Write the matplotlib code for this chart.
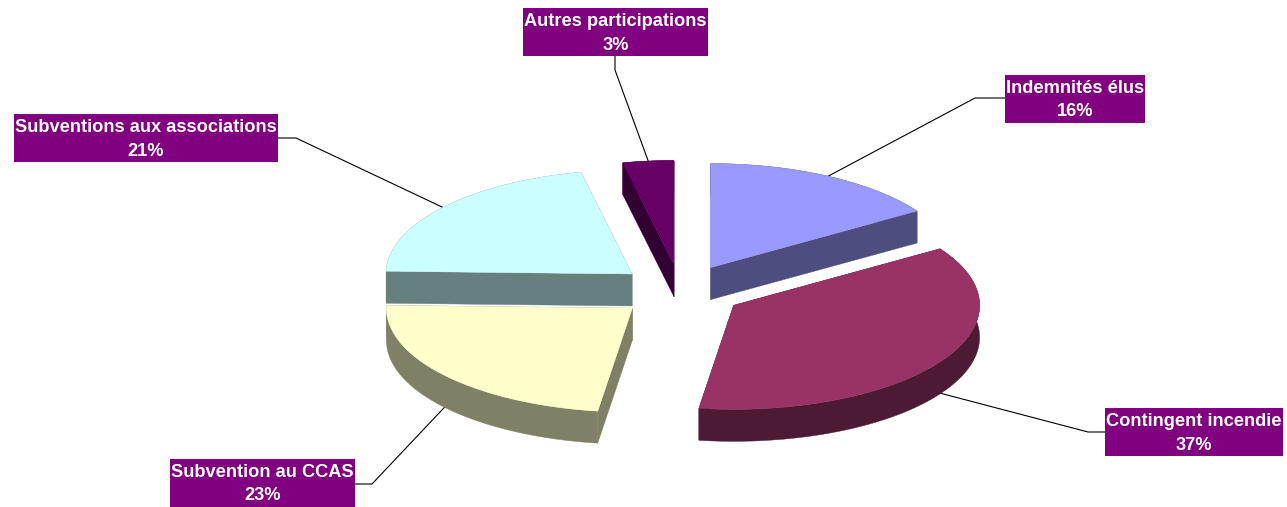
import numpy as np
import matplotlib
matplotlib.use("Agg")
import matplotlib.pyplot as plt
from matplotlib.patches import Polygon, Rectangle

# data (shares, shown labels are rounded)
categories = ["Indemnités élus", "Contingent incendie", "Subvention au CCAS",
              "Subventions aux associations", "Autres participations"]
shares = [15.85, 36.4, 23.17, 21.25, 3.33]
shown_pct = ["16%", "37%", "23%", "21%", "3%"]
top_colors = ["#9999FF", "#993366", "#FFFFCC", "#CCFFFF", "#660066"]
side_colors = ["#4D4D80", "#4D1A33", "#808066", "#668080", "#330033"]

# layout, in pixels of the 1287x507 image
W, H = 1287, 507
CX, CY = 680.5, 291
RX, RY = 246, 104
DEPTH = 32
EXPLODE = 63
# label box: left, top, right, bottom
boxes = [(1005, 75, 1145, 123), (1105, 408, 1283, 456), (170, 459, 355, 507),
         (14, 114, 278, 162), (523, 8, 708, 56)]
# leader: elbow point then the point on the box
elbows = [((975, 98), (1005, 98)), ((1088, 432), (1105, 432)), ((372, 484), (355, 484)),
          ((296, 138), (278, 138)), ((615, 70), (615, 56))]
# the outer wall carries the leader on these slices
leader_on_wall = [False, True, True, False, False]
draw_order = [4, 3, 0, 2, 1]

fig = plt.figure(figsize=(W / 100, H / 100), dpi=100)
ax = fig.add_axes([0, 0, 1, 1])
ax.set_xlim(0, W)
ax.set_ylim(H, 0)
ax.axis("off")

edges = np.cumsum([0] + shares) * 3.6


def point(ax0, ay0, deg):
    a = np.radians(deg)
    return ax0 + RX * np.sin(a), ay0 - RY * np.cos(a)


# leaders first, the pie sits on top of them
for i in range(len(shares)):
    mid = (edges[i] + edges[i + 1]) / 2
    a = np.radians(mid)
    ox = CX + EXPLODE * np.sin(a)
    oy = CY - EXPLODE * np.cos(a) * RY / RX
    sx, sy = point(ox, oy, mid)
    if leader_on_wall[i]:
        sy += DEPTH
    (ex, ey), (bx, by) = elbows[i]
    ax.plot([sx, ex, bx], [sy, ey, by], color="black", lw=0.8, zorder=1)

z = 2
for i in draw_order:
    start, end = edges[i], edges[i + 1]
    mid = (start + end) / 2
    a = np.radians(mid)
    ox = CX + EXPLODE * np.sin(a)
    oy = CY - EXPLODE * np.cos(a) * RY / RX
    deg = np.linspace(start, end, 120)
    x, y = point(ox, oy, deg)

    # walls: outer arc and both cut faces, the top covers the hidden parts
    arc = np.column_stack([np.r_[x, x[::-1]], np.r_[y, y[::-1] + DEPTH]])
    ax.add_patch(Polygon(arc, closed=True, fc=side_colors[i], ec=side_colors[i], lw=0.3, zorder=z))
    for px, py in [(x[0], y[0]), (x[-1], y[-1])]:
        wall = [(ox, oy), (px, py), (px, py + DEPTH), (ox, oy + DEPTH)]
        ax.add_patch(Polygon(wall, closed=True, fc=side_colors[i], ec=side_colors[i], lw=0.3, zorder=z))
    top = np.column_stack([np.r_[ox, x], np.r_[oy, y]])
    ax.add_patch(Polygon(top, closed=True, fc=top_colors[i], ec=top_colors[i], lw=0.3, zorder=z + 1))
    z += 2

for i, name in enumerate(categories):
    l, t, r, b = boxes[i]
    ax.add_patch(Rectangle((l, t), r - l, b - t, fc="#800080", ec="none", zorder=20))
    ax.text((l + r) / 2, t + 13.5, name, color="white", fontsize=13.15, fontweight="bold",
            family="Liberation Sans", ha="center", va="center", zorder=21)
    ax.text((l + r) / 2, t + 37, shown_pct[i], color="white", fontsize=13.15, fontweight="bold",
            family="Liberation Sans", ha="center", va="center", zorder=21)

fig.savefig("out.png", dpi=100, facecolor="white")
